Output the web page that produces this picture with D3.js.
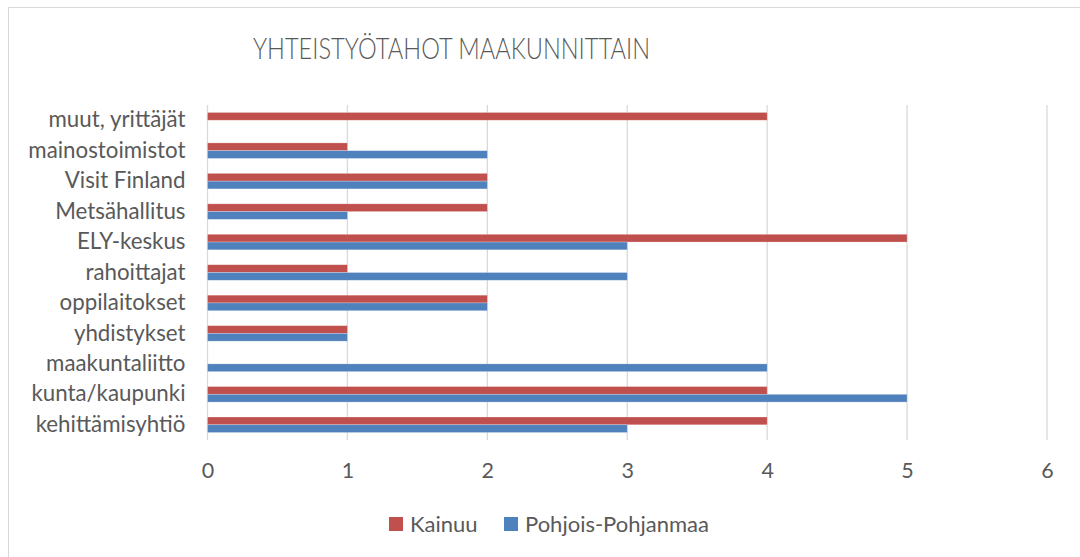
<!DOCTYPE html>
<html>
<head>
<meta charset="utf-8">
<script src="https://cdn.jsdelivr.net/npm/d3@7"></script>
<style>
  body { margin: 0; background: #fff; }
  svg text { font-family: Lato, "Open Sans", sans-serif; fill: #595959; }
</style>
</head>
<body>
<div id="chart"></div>
<script>
// categories from top to bottom
const categories = ["muut, yrittäjät", "mainostoimistot", "Visit Finland", "Metsähallitus",
    "ELY-keskus", "rahoittajat", "oppilaitokset", "yhdistykset", "maakuntaliitto",
    "kunta/kaupunki", "kehittämisyhtiö"];
const kainuu = [4, 1, 2, 2, 5, 1, 2, 1, 0, 4, 4];
const pohjoisPohjanmaa = [0, 2, 2, 1, 3, 3, 2, 1, 4, 5, 3];
const seriesNames = ["Kainuu", "Pohjois-Pohjanmaa"];
const xTicks = [0, 1, 2, 3, 4, 5, 6];

const colors = {"Kainuu": "#C0504D", "Pohjois-Pohjanmaa": "#4F81BD"};

const W = 1080, H = 557;
const margin = {top: 105, right: 33, bottom: 117, left: 207.5};
const width = W - margin.left - margin.right,
      height = H - margin.top - margin.bottom;

const svg = d3.select("#chart")
    .append("svg")
    .attr("width", W)
    .attr("height", H);

// chart border
svg.append("rect")
    .attr("x", 8.5).attr("y", 7.5)
    .attr("width", W).attr("height", H)
    .attr("fill", "none")
    .attr("stroke", "#d9d9d9");

svg.append("text")
    .attr("x", 253)
    .attr("y", 59)
    .attr("textLength", 397)
    .attr("lengthAdjust", "spacingAndGlyphs")
    .style("font-size", "29px")
    .style("font-weight", 300)
    .text("YHTEISTYÖTAHOT MAAKUNNITTAIN");

const g = svg.append("g")
    .attr("transform", `translate(${margin.left},${margin.top})`);

const xScale = d3.scaleLinear().domain([0, 6]).range([0, width]);
const yScale = d3.scaleBand().domain(categories).range([0, height]).paddingInner(0.49).paddingOuter(0.245);
const ySub = d3.scaleBand().domain(seriesNames).range([0, yScale.bandwidth()]);

// gridlines
g.selectAll(".grid")
    .data(xTicks)
    .enter()
    .append("line")
    .attr("class", "grid")
    .attr("x1", d => xScale(d)).attr("x2", d => xScale(d))
    .attr("y1", 0).attr("y2", height)
    .attr("stroke", "#d9d9d9")
    .attr("stroke-width", 1.3);

// x axis labels
const xAxis = d3.axisBottom(xScale).tickValues(xTicks).tickFormat(d3.format("d")).tickSize(0).tickPadding(23);
const xAxisGroup = g.append("g")
    .attr("transform", `translate(0,${height})`)
    .call(xAxis);
xAxisGroup.select(".domain").remove();
xAxisGroup.selectAll("text").style("font-size", "21.5px").style("font-family", null);

// y axis labels
const yAxis = d3.axisLeft(yScale).tickSize(0).tickPadding(22);
const yAxisGroup = g.append("g").call(yAxis);
yAxisGroup.select(".domain").remove();
yAxisGroup.selectAll("text").style("font-size", "22.3px").style("font-family", null);

const rows = categories.map((c, i) => ({
    category: c,
    values: [
        {name: "Kainuu", value: kainuu[i]},
        {name: "Pohjois-Pohjanmaa", value: pohjoisPohjanmaa[i]}
    ]
}));

const groups = g.selectAll(".row")
    .data(rows)
    .enter()
    .append("g")
    .attr("class", "row")
    .attr("transform", d => `translate(0,${yScale(d.category)})`);

groups.selectAll("rect")
    .data(d => d.values.filter(v => v.value > 0))
    .enter()
    .append("rect")
    .attr("x", xScale(0))
    .attr("y", d => ySub(d.name))
    .attr("width", d => xScale(d.value) - xScale(0))
    .attr("height", ySub.bandwidth())
    .attr("fill", d => colors[d.name])
    .attr("stroke", "#ffffff")
    .attr("stroke-opacity", 0.35)
    .attr("stroke-width", 0.7);

// legend
const legendItems = [
    {name: "Kainuu", x: 389},
    {name: "Pohjois-Pohjanmaa", x: 504}
];
const legend = svg.selectAll(".legend")
    .data(legendItems)
    .enter()
    .append("g")
    .attr("class", "legend")
    .attr("transform", d => `translate(${d.x},517)`);
legend.append("rect")
    .attr("width", 14).attr("height", 14)
    .attr("fill", d => colors[d.name]);
legend.append("text")
    .attr("x", 21).attr("y", 14.5)
    .style("font-size", "22px")
    .text(d => d.name);
</script>
</body>
</html>
